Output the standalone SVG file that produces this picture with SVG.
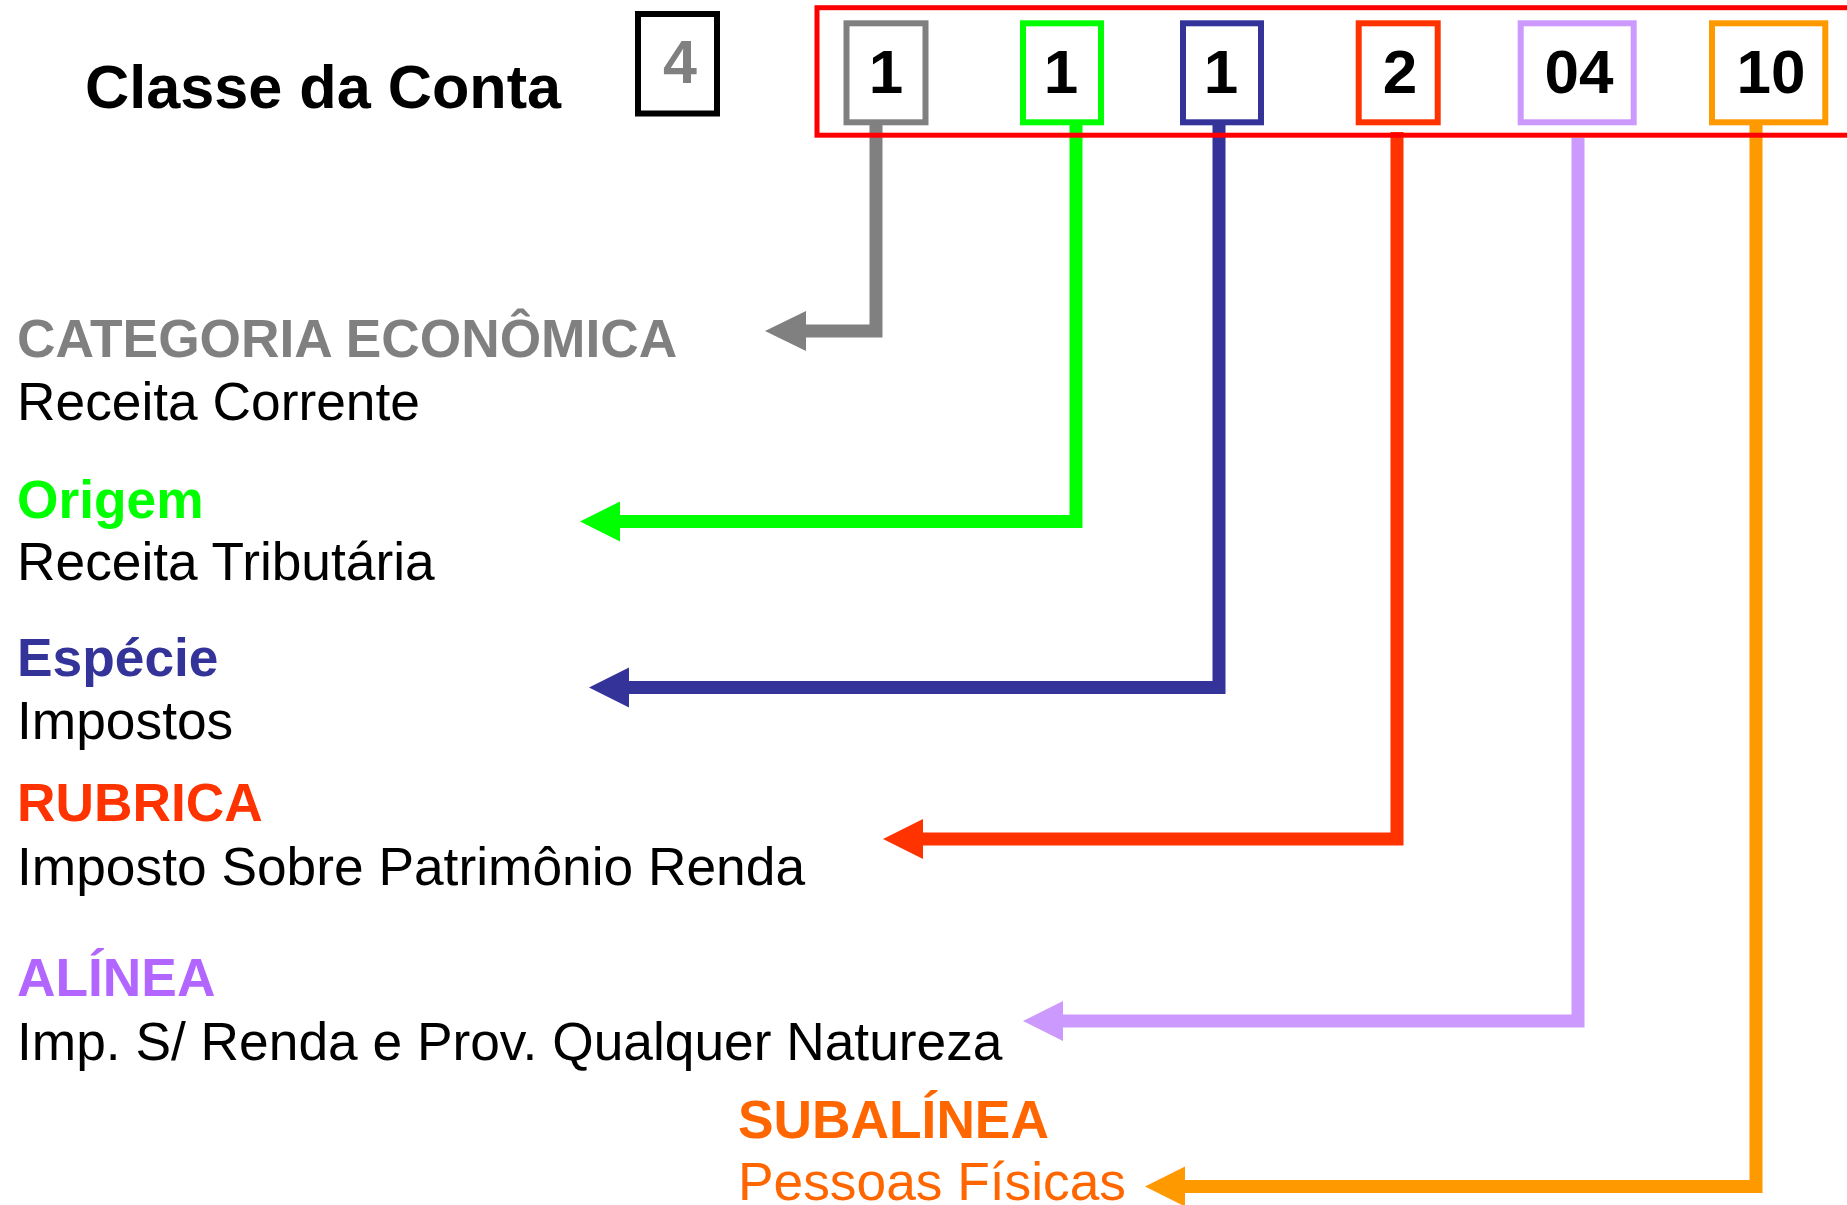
<svg xmlns="http://www.w3.org/2000/svg" width="1847" height="1205" viewBox="0 0 1847 1205">
<style>
text{font-family:"Liberation Sans",Arial,sans-serif}
.b{font-weight:bold}
.h{font-size:53.3px;font-weight:bold}
.s{font-size:53.3px;fill:#000}
.d{font-size:62px;font-weight:bold;fill:#000;text-anchor:middle}
.box{fill:#fff;stroke-width:6}
.ln{fill:none;stroke-width:13;stroke-linejoin:miter;stroke-linecap:butt}
</style>
<rect width="1847" height="1205" fill="#fff"/>
<text id="title" class="b" x="85" y="108" font-size="61.2" fill="#000">Classe da Conta</text>
<g id="box4">
<rect x="638" y="14" width="79" height="99.5" fill="#fff" stroke="#000" stroke-width="6"/>
<text x="680" y="83.3" font-size="61" font-weight="bold" fill="#808080" text-anchor="middle">4</text>
</g>
<g id="connectors">
<path class="ln" stroke="#808080" d="M876,125 V331 H806"/>
<polygon fill="#808080" points="765,331 806,311 806,351"/>
<path class="ln" stroke="#00FF00" d="M1076,125 V521.5 H619"/>
<polygon fill="#00FF00" points="580,521.5 620,501.5 620,541.5"/>
<path class="ln" stroke="#333399" d="M1219,125 V687.5 H628"/>
<polygon fill="#333399" points="589,687.5 629,667.5 629,707.5"/>
<path class="ln" stroke="#FF3300" d="M1397,132 V839 H922"/>
<polygon fill="#FF3300" points="883,839 923,819 923,859"/>
<path class="ln" stroke="#CC99FF" d="M1578,137.7 V1021 H1062"/>
<polygon fill="#CC99FF" points="1023,1021 1063,1001 1063,1041"/>
<path class="ln" stroke="#FF9900" d="M1756,125 V1186.5 H1184"/>
<polygon fill="#FF9900" points="1145,1186.5 1185,1166.5 1185,1206.5"/>
</g>
<g id="d1"><rect class="box" x="846.5" y="23.3" width="79" height="99" stroke="#808080"/><text class="d" x="886" y="92.7">1</text></g>
<g id="d2"><rect class="box" x="1023" y="23.3" width="78" height="99" stroke="#00FF00"/><text class="d" x="1061" y="92.7">1</text></g>
<g id="d3"><rect class="box" x="1183" y="23.3" width="78" height="99" stroke="#333399"/><text class="d" x="1221" y="92.7">1</text></g>
<g id="d4"><rect class="box" x="1358.7" y="23.3" width="79" height="99" stroke="#FF3300"/><text class="d" x="1400" y="92.7">2</text></g>
<g id="d5"><rect class="box" x="1520.7" y="23.3" width="113" height="99" stroke="#CC99FF"/><text class="d" x="1579" y="92.7">04</text></g>
<g id="d6"><rect class="box" x="1712" y="23.3" width="113.3" height="99" stroke="#FF9900"/><text class="d" x="1771" y="92.7">10</text></g>
<rect id="frame" x="817" y="7.7" width="1100" height="127.5" fill="none" stroke="#FF0000" stroke-width="5"/>
<g id="categoria"><text class="h" x="17" y="356.7" fill="#808080">CATEGORIA ECONÔMICA</text><text class="s" x="17" y="420">Receita Corrente</text></g>
<g id="origem"><text class="h" x="17" y="517.7" fill="#00FF00">Origem</text><text class="s" x="17" y="580">Receita Tributária</text></g>
<g id="especie"><text class="h" x="17" y="676" fill="#333399">Espécie</text><text class="s" x="17" y="739">Impostos</text></g>
<g id="rubrica"><text class="h" x="17" y="821" fill="#FF3300">RUBRICA</text><text class="s" x="17" y="884.7">Imposto Sobre Patrimônio Renda</text></g>
<g id="alinea"><text class="h" x="17" y="996" fill="#B266FF">ALÍNEA</text><text class="s" x="17" y="1060">Imp. S/ Renda e Prov. Qualquer Natureza</text></g>
<g id="subalinea"><text class="h" x="738" y="1138.3" fill="#FF6600">SUBALÍNEA</text><text x="738" y="1200" font-size="53.3" fill="#FF6600">Pessoas Físicas</text></g>
</svg>
